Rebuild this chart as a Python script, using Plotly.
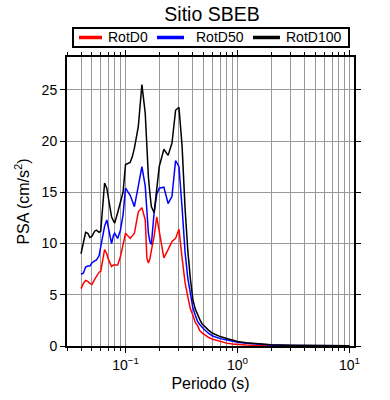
import plotly.graph_objects as go

periods = [0.040, 0.042, 0.044, 0.046, 0.048, 0.050, 0.053, 0.055, 0.058, 0.060,
           0.063, 0.065, 0.068, 0.070, 0.075, 0.078, 0.080, 0.085, 0.090, 0.095,
           0.100, 0.110, 0.115, 0.120, 0.130, 0.140, 0.150, 0.155, 0.160, 0.165,
           0.170, 0.180, 0.190, 0.200, 0.220, 0.240, 0.260, 0.280, 0.300, 0.320,
           0.340, 0.360, 0.380, 0.400, 0.420, 0.440, 0.460, 0.480, 0.500, 0.550,
           0.600, 0.700, 0.800, 0.900, 1.0, 1.2, 1.5, 2.0, 3.0, 4.0, 5.0, 7.5, 10.0]

rotd0 = [5.6, 6.1, 6.4, 6.3, 6.1, 6.0, 6.5, 6.8, 7.2, 7.3,
         8.6, 9.4, 9.0, 8.5, 7.75, 7.9, 7.9, 7.9, 8.7, 9.8,
         11.0, 10.5, 10.8, 11.0, 13.1, 13.5, 12.3, 8.6, 8.1, 8.5,
         9.3, 10.7, 12.6, 11.3, 8.6, 9.4, 10.2, 10.5, 11.4, 8.6,
         6.2, 4.8, 3.6, 3.0, 2.3, 2.0, 1.5, 1.3, 1.15, 0.85,
         0.65, 0.42, 0.28, 0.2, 0.14, 0.09, 0.06, 0.04, 0.025, 0.02, 0.015, 0.01, 0.008]

rotd50 = [7.0, 7.1, 7.7, 7.8, 7.8, 8.1, 8.3, 8.4, 8.8, 9.7,
          11.0, 11.7, 12.3, 11.5, 10.0, 10.8, 11.0, 10.5, 11.3, 12.8,
          15.4, 14.7, 14.1, 13.6, 15.6, 17.5, 15.6, 13.0, 11.0, 10.2,
          9.9, 13.0, 14.8, 15.4, 15.5, 13.9, 14.6, 18.1, 17.5, 13.5,
          9.2, 6.6, 4.9, 3.7, 3.0, 2.4, 2.1, 1.85, 1.65, 1.25,
          0.98, 0.72, 0.56, 0.45, 0.36, 0.26, 0.17, 0.1, 0.06, 0.04, 0.03, 0.02, 0.015]

rotd100 = [9.0, 10.0, 11.1, 11.0, 10.6, 10.7, 11.2, 11.3, 11.1, 11.2,
           14.0, 15.9, 15.4, 14.5, 12.6, 12.2, 12.0, 13.0, 13.9, 15.0,
           17.7, 17.9, 18.5, 19.3, 21.4, 25.5, 22.7, 18.8, 16.5, 14.9,
           13.6, 13.0, 15.6, 17.5, 19.2, 18.6, 19.8, 23.0, 23.3, 19.5,
           13.5, 9.3, 6.5, 4.5, 3.6, 3.0, 2.6, 2.2, 2.0, 1.55,
           1.24, 0.92, 0.74, 0.58, 0.45, 0.32, 0.22, 0.13, 0.07, 0.05, 0.035, 0.025, 0.02]

series_names = ["RotD0", "RotD50", "RotD100"]
series_colors = ["#ff0000", "#0000ff", "#000000"]

x_tickvals = [0.1, 1, 10]
x_ticktext = ["10<sup>\u22121</sup>", "10<sup>0</sup>", "10<sup>1</sup>"]
y_tickvals = [0, 5, 10, 15, 20, 25]

minor_vals = [m * 10 ** e for e in (-2, -1, 0, 1) for m in range(2, 10)]

fig = go.Figure()
for name, vals, col in zip(series_names, [rotd0, rotd50, rotd100], series_colors):
    fig.add_trace(go.Scatter(x=periods, y=vals, mode="lines", name=name,
                             line=dict(color=col, width=1.5)))

font_family = "Liberation Sans, Arial, Helvetica, sans-serif"

# --- legend box above the plot (GMT style), in paper coordinates ---
leg_y = 1.0675
swatch_x = [(0.0418, 0.122), (0.3136, 0.4077), (0.648, 0.742)]
label_x = [0.136, 0.443, 0.756]
shapes = [dict(type="rect", xref="paper", yref="paper", x0=0.0209, x1=0.9826,
               y0=1.0346, y1=1.1003, line=dict(color="black", width=2),
               fillcolor="white", layer="above")]
annotations = []
for name, col, (sx0, sx1), lx in zip(series_names, series_colors, swatch_x, label_x):
    shapes.append(dict(type="line", xref="paper", yref="paper", x0=sx0, x1=sx1,
                       y0=leg_y, y1=leg_y, line=dict(color=col, width=3.5), layer="above"))
    annotations.append(dict(text=name, xref="paper", yref="paper", x=lx, y=leg_y,
                            xanchor="left", yanchor="middle", showarrow=False,
                            font=dict(size=14, color="black")))

fig.update_layout(
    width=390, height=400,
    margin=dict(l=67, r=36, t=57, b=54, autoexpand=False),
    paper_bgcolor="white", plot_bgcolor="white",
    font=dict(family=font_family, size=14, color="black"),
    title=dict(text="Sitio SBEB", x=0.5436, xanchor="center", xref="container",
               y=0.964, yanchor="middle", yref="container",
               font=dict(size=19.5)),
    showlegend=False,
    shapes=shapes,
    annotations=annotations,
)

fig.update_xaxes(
    type="log", range=[-1.523, 1.041],
    tickvals=x_tickvals, ticktext=x_ticktext,
    ticks="outside", ticklen=5, tickwidth=1, tickcolor="black",
    showline=True, linecolor="black", linewidth=2, mirror="allticks",
    showgrid=True, gridcolor="#999999", gridwidth=1,
    minor=dict(tickvals=minor_vals, ticks="outside", ticklen=3, tickcolor="black",
               showgrid=True, gridcolor="#999999", gridwidth=1),
    title=dict(text="Periodo (s)", font=dict(size=16), standoff=6),
    zeroline=False,
)
fig.update_yaxes(
    range=[0, 28.2], tickvals=y_tickvals,
    ticks="outside", ticklen=5, tickwidth=1, tickcolor="black",
    showline=True, linecolor="black", linewidth=2, mirror="allticks",
    showgrid=True, gridcolor="#999999", gridwidth=1,
    title=dict(text="PSA (cm/s<sup>2</sup>)", font=dict(size=16), standoff=8),
    zeroline=False,
)

fig.write_html("out.html", config={"displayModeBar": False},
               post_script="document.body.style.margin='0';")
